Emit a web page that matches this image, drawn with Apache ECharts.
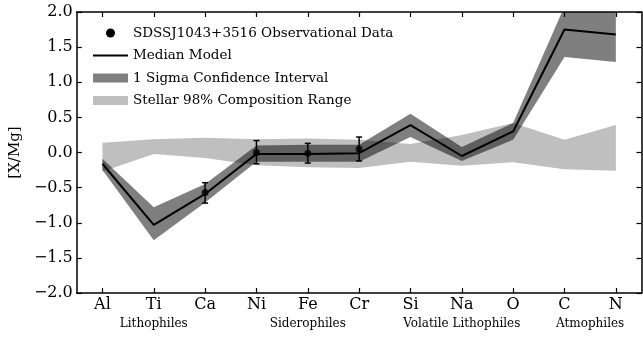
<!DOCTYPE html>
<html>
<head>
<meta charset="utf-8">
<script src="https://cdn.jsdelivr.net/npm/echarts@6/dist/echarts.min.js"></script>
<style>html,body{margin:0;padding:0;background:#fff}#c{width:643px;height:338px}</style>
</head>
<body>
<div id="c"></div>
<script>
const categories = ['Al','Ti','Ca','Ni','Fe','Cr','Si','Na','O','C','N'];
const medianModel = [-0.16,-1.03,-0.59,-0.02,-0.02,-0.01,0.39,-0.05,0.30,1.75,1.68];
const sigmaLow  = [-0.25,-1.25,-0.71,-0.13,-0.13,-0.13,0.22,-0.12,0.18,1.36,1.29];
const sigmaHigh = [-0.09,-0.78,-0.45,0.10,0.11,0.11,0.55,0.08,0.42,2.08,2.10];
const stellarLow  = [-0.27,-0.02,-0.08,-0.18,-0.21,-0.22,-0.13,-0.19,-0.14,-0.24,-0.26];
const stellarHigh = [0.14,0.19,0.21,0.19,0.20,0.18,0.12,0.25,0.42,0.18,0.39];
const obsCats = ['Ca','Ni','Fe','Cr'];
const obsVal  = [-0.57,0.00,-0.01,0.05];
const obsLow  = [-0.72,-0.16,-0.15,-0.12];
const obsHigh = [-0.43,0.17,0.13,0.22];
const yTicks = [-2.0,-1.5,-1.0,-0.5,0.0,0.5,1.0,1.5,2.0];
const groups = [['Lithophiles',0,2],['Siderophiles',3,5],['Volatile Lithophiles',6,8],['Atmophiles',9,10]];

const FONT = 'DejaVu Serif';
const chart = echarts.init(document.getElementById('c'));

function bandRender(lo, hi, fill) {
  return function (params, api) {
    if (params.dataIndex !== 0) return;
    const pts = [];
    for (let i = 0; i < categories.length; i++) pts.push(api.coord([i, hi[i]]));
    for (let i = categories.length - 1; i >= 0; i--) pts.push(api.coord([i, lo[i]]));
    return { type: 'polygon', shape: { points: pts }, style: { fill: fill } };
  };
}

const axisLine = { show: true, onZero: false, lineStyle: { color: '#000', width: 1.5 } };
const tick = { show: true, inside: true, length: 5, lineStyle: { color: '#000', width: 1.2 } };

chart.setOption({
  animation: false,
  grid: { left: 75, right: 1.5, top: 12, bottom: 45 },
  legend: {
    left: 88, top: 21, orient: 'vertical', itemWidth: 35, itemHeight: 9, itemGap: 8.5,
    textStyle: { fontFamily: FONT, fontSize: 13.5, color: '#000' },
    data: [
      { name: 'SDSSJ1043+3516 Observational Data', icon: 'circle', itemStyle: { color: '#000' } },
      { name: 'Median Model', icon: 'path://M0,0H35V2H0Z', itemStyle: { color: '#000' } },
      { name: '1 Sigma Confidence Interval', icon: 'rect', itemStyle: { color: '#808080' } },
      { name: 'Stellar 98% Composition Range', icon: 'rect', itemStyle: { color: '#bfbfbf' } }
    ]
  },
  xAxis: [
    { type: 'category', data: categories, position: 'bottom', boundaryGap: true,
      axisLine: axisLine, axisTick: Object.assign({ alignWithLabel: true, interval: 0 }, tick),
      axisLabel: { fontFamily: FONT, fontSize: 16, color: '#000', margin: 4, interval: 0 },
      splitLine: { show: false } },
    { type: 'category', data: categories, position: 'top', boundaryGap: true,
      axisLine: axisLine, axisTick: Object.assign({ alignWithLabel: true, interval: 0 }, tick),
      axisLabel: { show: false }, splitLine: { show: false } }
  ],
  yAxis: [
    { type: 'value', min: -2, max: 2, interval: 0.5, position: 'left',
      name: '[X/Mg]', nameLocation: 'middle', nameGap: 50, nameRotate: 90,
      nameTextStyle: { fontFamily: FONT, fontSize: 15, color: '#000' },
      axisLine: axisLine, axisTick: tick,
      axisLabel: { fontFamily: FONT, fontSize: 16, color: '#000', margin: 4,
        formatter: v => (v < 0 ? '\u2212' : '') + Math.abs(v).toFixed(1) },
      splitLine: { show: false } },
    { type: 'value', min: -2, max: 2, interval: 0.5, position: 'right',
      axisLine: axisLine, axisTick: tick, axisLabel: { show: false }, splitLine: { show: false } }
  ],
  series: [
    { name: 'Stellar 98% Composition Range', type: 'custom', clip: true, z: 1,
      itemStyle: { color: '#bfbfbf' },
      renderItem: bandRender(stellarLow, stellarHigh, '#bfbfbf'), data: [[0, 0]] },
    { name: '1 Sigma Confidence Interval', type: 'custom', clip: true, z: 2,
      itemStyle: { color: '#808080' },
      renderItem: bandRender(sigmaLow, sigmaHigh, 'rgba(0,0,0,0.5)'), data: [[0, 0]] },
    { name: 'Median Model', type: 'line', z: 3, symbol: 'none', showSymbol: false,
      lineStyle: { color: '#000', width: 2 }, itemStyle: { color: '#000' },
      data: medianModel },
    { name: 'SDSSJ1043+3516 Observational Data', type: 'custom', z: 4,
      itemStyle: { color: '#000' },
      renderItem: function (params, api) {
        const i = params.dataIndex;
        const ci = categories.indexOf(obsCats[i]);
        const top = api.coord([ci, obsHigh[i]]);
        const bot = api.coord([ci, obsLow[i]]);
        const st = { stroke: '#000', lineWidth: 1.5 };
        return { type: 'group', children: [
          { type: 'line', shape: { x1: top[0], y1: top[1], x2: bot[0], y2: bot[1] }, style: st },
          { type: 'line', shape: { x1: top[0] - 3, y1: top[1], x2: top[0] + 3, y2: top[1] }, style: st },
          { type: 'line', shape: { x1: bot[0] - 3, y1: bot[1], x2: bot[0] + 3, y2: bot[1] }, style: st }
        ] };
      },
      data: obsCats.map((c, i) => [categories.indexOf(c), obsVal[i]]) },
    { name: 'SDSSJ1043+3516 Observational Data', type: 'scatter', z: 5,
      symbol: 'circle', symbolSize: 7, itemStyle: { color: '#000' },
      data: obsCats.map((c, i) => [c, obsVal[i]]) }
  ]
});

const gy = chart.convertToPixel({ yAxisIndex: 0 }, -2) + 31;
chart.setOption({
  graphic: groups.map(g => {
    const x1 = chart.convertToPixel({ xAxisIndex: 0 }, categories[g[1]]);
    const x2 = chart.convertToPixel({ xAxisIndex: 0 }, categories[g[2]]);
    return { type: 'text', x: (x1 + x2) / 2, y: gy,
      style: { text: g[0], fontFamily: FONT, fontSize: 12, fill: '#000', align: 'center', verticalAlign: 'middle' } };
  })
});
</script>
</body>
</html>
